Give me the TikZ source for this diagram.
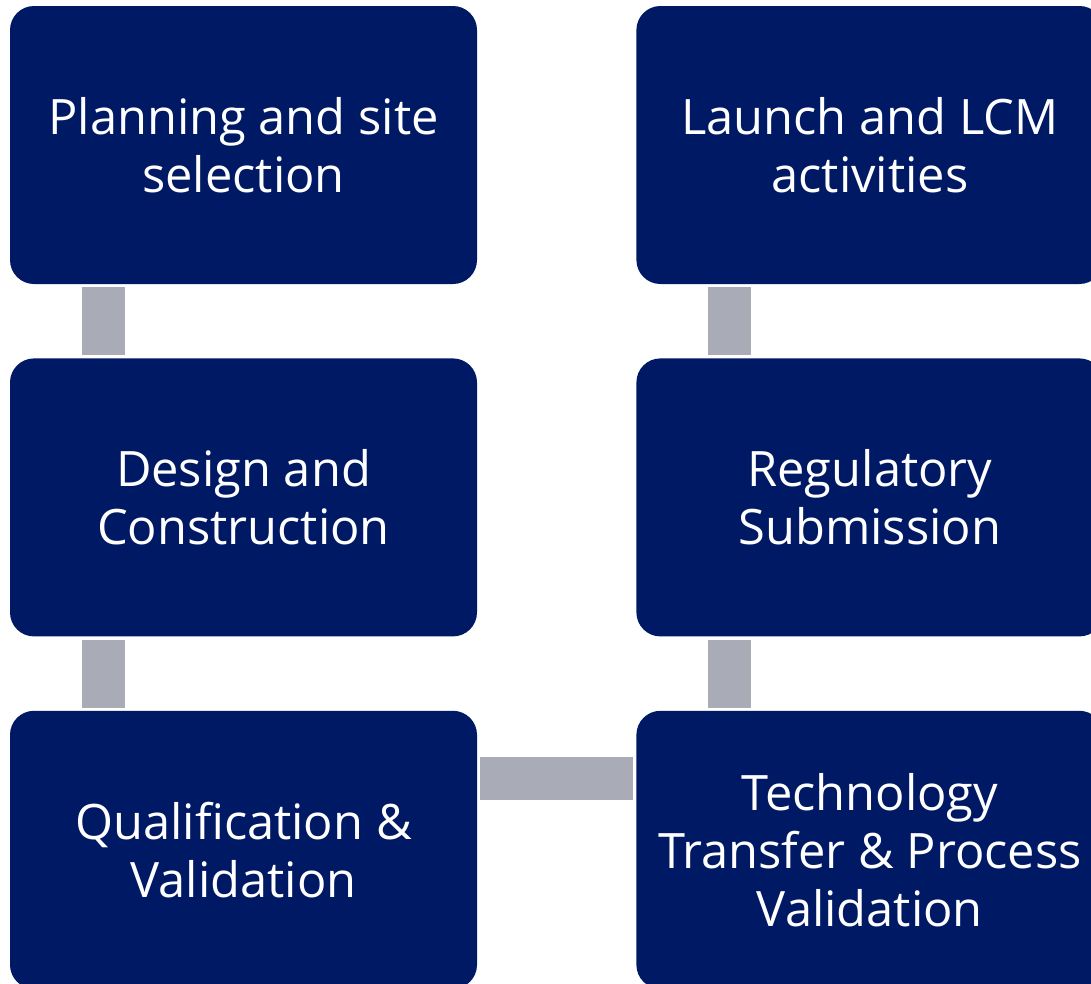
\documentclass[tikz,border=0pt]{standalone}
\usepackage{fontspec}
\setmainfont{Open Sans}
\usepackage{tikz}
\usetikzlibrary{positioning}
\definecolor{stagenavy}{HTML}{001965}
\definecolor{linkgrey}{HTML}{A9ABB6}

\begin{document}
\begin{tikzpicture}[x=1pt,y=-1pt,node distance=74pt and 159pt,
   stage/.style={fill=stagenavy,rounded corners=24pt,minimum width=467pt,
                 minimum height=278pt,align=center,text=white,
                 font=\fontsize{48.8}{58}\selectfont},
   link/.style={draw=linkgrey,line width=43pt,shorten <=3pt,shorten >=3pt}]
  \useasboundingbox (0,0) rectangle (1091,983);
  \clip (0,0) rectangle (1091,983);
  % left column, top to bottom
  \node[stage] (plan) at (243.5,145) {Planning and site\\selection};
  \node[stage,below=of plan] (design) {Design and\\Construction};
  \node[stage,below=of design] (qual) {Qualification \&\\Validation};
  % right column, bottom to top
  \node[stage,right=of qual] (tech) {Technology\\Transfer \& Process\\Validation};
  \node[stage,right=of design] (reg) {Regulatory\\Submission};
  \node[stage,right=of plan] (launch) {Launch and LCM\\activities};
  % grey links
  \draw[link] ([xshift=94pt]plan.south west) -- ([xshift=94pt]design.north west);
  \draw[link] ([xshift=94pt]design.south west) -- ([xshift=94pt]qual.north west);
  \draw[link] ([yshift=-68pt]qual.north east) -- ([yshift=-68pt]tech.north west);
  \draw[link] ([xshift=93pt]tech.north west) -- ([xshift=93pt]reg.south west);
  \draw[link] ([xshift=93pt]reg.north west) -- ([xshift=93pt]launch.south west);
\end{tikzpicture}
\end{document}
